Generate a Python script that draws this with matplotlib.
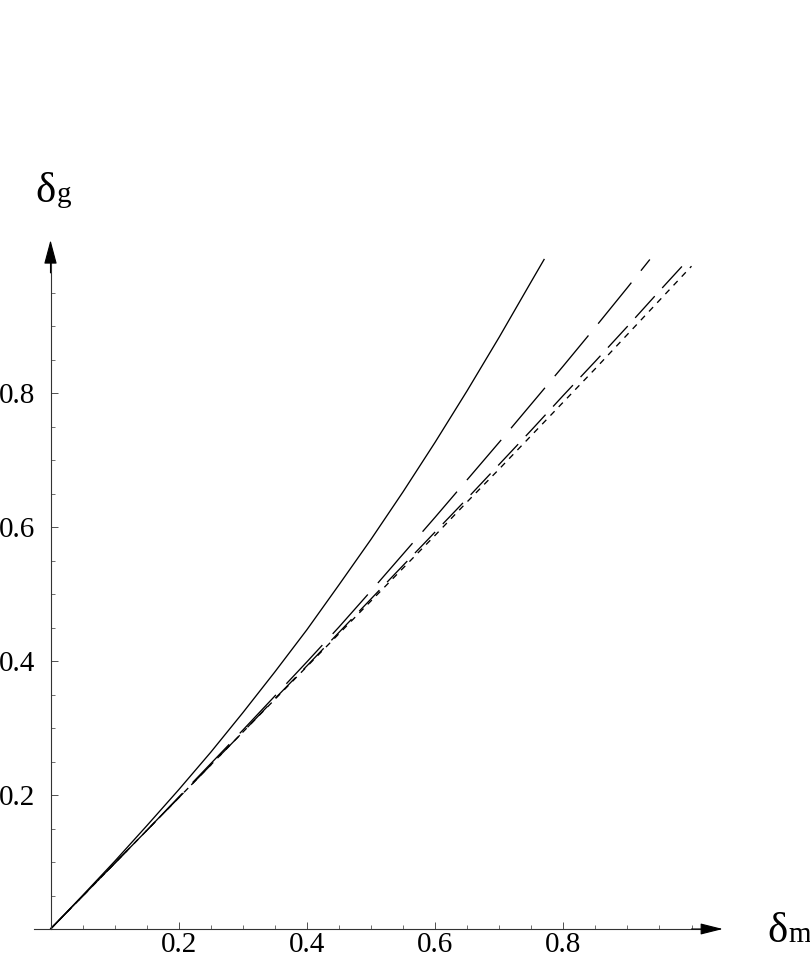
import matplotlib
matplotlib.use('Agg')
import matplotlib.pyplot as plt
from matplotlib.ticker import FixedLocator, NullFormatter

plt.rcParams['font.family'] = ['Liberation Serif', 'DejaVu Serif']
plt.rcParams['lines.scale_dashes'] = False

# ---- data ----
dm_solid = [0, 0.05, 0.1, 0.15, 0.2, 0.25, 0.3, 0.35, 0.4, 0.45, 0.5, 0.55,
            0.6, 0.65, 0.7, 0.75, 0.77]
dg_solid = [0, 0.050, 0.101, 0.154, 0.208, 0.264, 0.323, 0.384, 0.447, 0.514,
            0.582, 0.653, 0.727, 0.804, 0.884, 0.967, 1.0]

dm_long = [0, 0.05, 0.1, 0.15, 0.2, 0.25, 0.3, 0.35, 0.4, 0.45, 0.5, 0.55,
           0.6, 0.65, 0.7, 0.75, 0.8, 0.85, 0.9, 0.935]
dg_long = [0, 0.049, 0.098, 0.147, 0.197, 0.247, 0.297, 0.348, 0.399, 0.451,
           0.505, 0.560, 0.615, 0.671, 0.727, 0.784, 0.841, 0.899, 0.958, 1.0]

dm_mid = [0, 0.05, 0.1, 0.15, 0.2, 0.25, 0.3, 0.35, 0.4, 0.45, 0.5, 0.55,
          0.6, 0.65, 0.7, 0.75, 0.8, 0.85, 0.9, 0.95, 0.995]
dg_mid = [0, 0.049, 0.098, 0.147, 0.196, 0.245, 0.294, 0.344, 0.393, 0.443,
          0.493, 0.543, 0.593, 0.643, 0.694, 0.745, 0.797, 0.848, 0.900, 0.953, 1.0]

dm_short = [0, 0.05, 0.1, 0.15, 0.2, 0.25, 0.3, 0.35, 0.4, 0.45, 0.5, 0.55,
            0.6, 0.65, 0.7, 0.75, 0.8, 0.85, 0.9, 0.95, 1.0]
dg_short = [0, 0.049, 0.098, 0.147, 0.196, 0.245, 0.294, 0.343, 0.392, 0.441,
            0.490, 0.539, 0.588, 0.638, 0.687, 0.737, 0.787, 0.837, 0.888, 0.939, 0.990]

x_major = [0.2, 0.4, 0.6, 0.8]
x_major_labels = ['0.2', '0.4', '0.6', '0.8']
x_minor = [0.05, 0.1, 0.15, 0.25, 0.3, 0.35, 0.45, 0.5, 0.55, 0.65, 0.7, 0.75,
           0.85, 0.9, 0.95, 1.0]
y_major = [0.2, 0.4, 0.6, 0.8]
y_major_labels = ['0.2', '0.4', '0.6', '0.8']
y_minor = [0.05, 0.1, 0.15, 0.25, 0.3, 0.35, 0.45, 0.5, 0.55, 0.65, 0.7, 0.75,
           0.85, 0.9, 0.95, 1.0]

# ---- layout ----
W, H = 810, 960
X0, XS = 50.5, 641.0     # pixel of x=0, pixels per unit
Y0, YS = 929.0, 669.5    # pixel (from top) of y=0, pixels per unit

fig = plt.figure(figsize=(W / 100, H / 100), dpi=100)
ax = fig.add_axes([0, 0, 1, 1])
ax.set_xlim(-X0 / XS, (W - X0) / XS)
ax.set_ylim(-(H - Y0) / YS, Y0 / YS)

for s in ['top', 'right']:
    ax.spines[s].set_visible(False)
ax.spines['left'].set_position(('data', 0))
ax.spines['bottom'].set_position(('data', 0))
ax.spines['bottom'].set_bounds(-0.025, 1.03)
ax.spines['left'].set_bounds(0, 1.0)
for s in ['left', 'bottom']:
    ax.spines[s].set_color('#333333')
    ax.spines[s].set_linewidth(0.8)

ax.xaxis.set_major_locator(FixedLocator(x_major))
ax.set_xticklabels(x_major_labels)
ax.xaxis.set_minor_locator(FixedLocator(x_minor))
ax.yaxis.set_major_locator(FixedLocator(y_major))
ax.set_yticklabels(y_major_labels)
ax.yaxis.set_minor_locator(FixedLocator(y_minor))
ax.xaxis.set_minor_formatter(NullFormatter())
ax.yaxis.set_minor_formatter(NullFormatter())

ax.tick_params(which='major', direction='in', length=5, width=0.6,
               color='#333333', labelsize=21)
ax.tick_params(which='minor', direction='in', length=3, width=0.5,
               color='#333333')
ax.tick_params(axis='x', which='major', pad=2)
ax.tick_params(axis='y', which='major', pad=11)

# arrow heads
ax.annotate('', xy=(1.049, 0), xytext=(1.0, 0),
            arrowprops=dict(arrowstyle='-|>,head_length=1.4,head_width=0.35',
                            color='black', lw=0.8, shrinkA=0, shrinkB=0))
ax.annotate('', xy=(0, 1.029), xytext=(0, 0.98),
            arrowprops=dict(arrowstyle='-|>,head_length=1.5,head_width=0.4',
                            color='black', lw=0.8, shrinkA=0, shrinkB=0))

# curves
ax.plot(dm_solid, dg_solid, color='black', lw=0.95)
ax.plot(dm_long, dg_long, color='black', lw=0.95, dashes=(38, 11))
ax.plot(dm_mid, dg_mid, color='black', lw=0.95, dashes=(21, 8))
ax.plot(dm_short, dg_short, color='black', lw=0.95, dashes=(4.3, 4.3))

# axis labels
fig.text(767 / W, (H - 942) / H, '\u03b4', fontsize=31, ha='left', va='baseline')
fig.text(788 / W, (H - 942) / H, 'm', fontsize=21, ha='left', va='baseline')
fig.text(35 / W, (H - 202) / H, '\u03b4', fontsize=31, ha='left', va='baseline')
fig.text(57 / W, (H - 202) / H, 'g', fontsize=21, ha='left', va='baseline')

fig.savefig('out.png', dpi=100)
